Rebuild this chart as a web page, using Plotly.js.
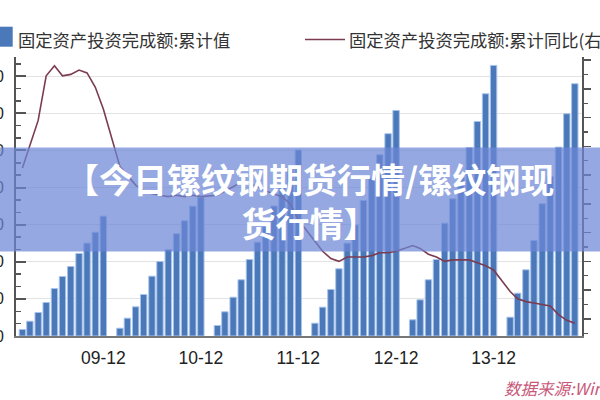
<!DOCTYPE html>
<html>
<head>
<meta charset="utf-8">
<script src="https://cdn.plot.ly/plotly-3.0.1.min.js"></script>
<style>
  html, body { margin: 0; padding: 0; background: #ffffff; }
  #chart { width: 600px; height: 400px; }
</style>
</head>
<body>
<div id="chart"></div>
<script>
// ---- data ----
const years = ['2009', '2010', '2011', '2012', '2013', '2014'];
const months = ['02', '03', '04', '05', '06', '07', '08', '09', '10', '11', '12'];

// 固定资产投资完成额:累计值 (left axis)
const invest2009 = [10500, 23900, 38000, 54200, 76800, 96200, 112400, 133400, 150100, 167800, 193700];
const invest2010 = [12600, 28800, 47200, 67100, 96700, 120500, 139900, 165300, 186300, 209900, 224400];
const invest2011 = [17000, 39100, 62700, 90900, 123700, 151700, 176300, 210200, 239300, 270000, 300800];
const invest2012 = [20700, 46600, 75200, 108700, 150100, 179500, 219100, 255500, 293000, 327000, 364600];
const invest2013 = [26200, 58500, 90900, 123700, 182400, 221900, 256800, 304800, 346800, 391600, 437400];
const invest2014 = [30400, 69200, 107000, 154400, 213800, 257900, 305300, 359300, 407800];

// 固定资产投资完成额:累计同比 (right axis, %)
const yoy2009 = [26.5, 28.0, 29.8, 32.9, 33.6, 32.9, 33.0, 33.3, 33.1, 32.1, 30.6];
const yoy2010 = [26.6, 26.0, 25.3, 24.9, 24.7, 24.6, 24.5, 24.6, 24.5, 24.6, 24.5];
const yoy2011 = [24.6, 24.9, 25.2, 25.5, 25.4, 25.2, 24.9, 24.7, 24.5, 24.0, 22.9];
const yoy2012 = [21.4, 20.7, 20.2, 20.0, 20.3, 20.3, 20.3, 20.4, 20.6, 20.6, 20.7];
const yoy2013 = [21.1, 20.9, 20.5, 20.3, 20.0, 20.1, 20.1, 20.1, 19.9, 19.7, 19.4];
const yoy2014 = [17.9, 17.4, 17.2, 17.1, 17.0, 16.9, 16.3, 15.9, 15.7];

const tickDates = ['2009-12-01', '2010-12-01', '2011-12-01', '2012-12-01', '2013-12-01'];
const tickLabels = ['09-12', '10-12', '11-12', '12-12', '13-12'];

const seriesName1 = '固定资产投资完成额:累计值';
const seriesName2 = '固定资产投资完成额:累计同比(右';
const bannerText = '【今日镙纹钢期货行情/镙纹钢现<br>货行情】';
const sourceText = '数据来源:Wind';

// ---- assemble ----
const investByYear = [invest2009, invest2010, invest2011, invest2012, invest2013, invest2014];
const yoyByYear = [yoy2009, yoy2010, yoy2011, yoy2012, yoy2013, yoy2014];
const xs = [], inv = [], yoy = [];
years.forEach((y, i) => {
  investByYear[i].forEach((v, j) => {
    xs.push(y + '-' + months[j] + '-01');
    inv.push(v);
    yoy.push(yoyByYear[i][j]);
  });
});

const BAR = '#4a78b8';
const LINE = '#7b3b50';
const CJK = '"Noto Sans CJK SC", "Noto Sans", sans-serif';

// pixel -> paper helpers (plot area: x 16..582, y 57..336)
const L = 16, R = 18, T = 57, B = 64;
const PW = 600 - L - R, PH = 400 - T - B;
const px = x => (x - L) / PW;
const py = y => (400 - B - y) / PH;

const traces = [
  {
    type: 'bar', x: xs, y: inv, name: seriesName1,
    width: 24 * 86400000,
    marker: { color: BAR, line: { color: '#a8c4ec', width: 1 } },
    hoverinfo: 'x+y'
  },
  {
    type: 'scatter', mode: 'lines', x: xs, y: yoy, name: seriesName2, yaxis: 'y2',
    line: { color: LINE, width: 1.6 }
  }
];

const layout = {
  width: 600, height: 400,
  margin: { l: L, r: R, t: T, b: B, pad: 0 },
  paper_bgcolor: '#ffffff', plot_bgcolor: '#ffffff',
  showlegend: false,
  xaxis: {
    type: 'date',
    range: ['2009-01-08', '2014-10-28'],
    tickmode: 'array', tickvals: tickDates, ticktext: tickLabels,
    ticks: '', showgrid: false, zeroline: false,
    showline: true, linecolor: '#777', linewidth: 1.5,
    ticklabelstandoff: 5,
    tickfont: { family: '"Liberation Sans", Arial, sans-serif', size: 17.5, color: '#222' }
  },
  yaxis: {
    range: [0, 451000],
    tick0: 0, dtick: 60000, tickformat: 'd',
    ticks: 'inside', ticklen: 10, tickwidth: 2, tickcolor: '#555',
    minor: { dtick: 20000, ticks: 'inside', ticklen: 5, tickwidth: 1.5, tickcolor: '#555', showgrid: false },
    showline: true, linecolor: '#555', linewidth: 2,
    showgrid: true, gridcolor: '#e3e3e3', gridwidth: 1,
    zeroline: false,
    ticklabelstandoff: 7,
    automargin: false,
    tickfont: { family: '"Liberation Sans", Arial, sans-serif', size: 16, color: '#222' }
  },
  yaxis2: {
    overlaying: 'y', side: 'right',
    range: [14.81, 34.21],
    tick0: 16, dtick: 2,
    ticks: 'outside', ticklen: 7, tickwidth: 1.5, tickcolor: '#555',
    minor: { dtick: 1, ticks: 'outside', ticklen: 4, tickwidth: 1.2, tickcolor: '#555', showgrid: false },
    showline: true, linecolor: '#555', linewidth: 2,
    showgrid: false, zeroline: false,
    ticklabelstandoff: 7,
    automargin: false,
    tickfont: { family: '"Liberation Sans", Arial, sans-serif', size: 14, color: '#777' }
  },
  shapes: [
    // banner
    { type: 'rect', xref: 'paper', yref: 'paper', layer: 'above',
      x0: px(-2), x1: px(602), y0: py(251.5), y1: py(147.5),
      fillcolor: 'rgba(108,134,214,0.72)', line: { width: 0 } },
    // legend marker for bars
    { type: 'rect', xref: 'paper', yref: 'paper',
      x0: px(-8), x1: px(12.7), y0: py(46.7), y1: py(26.7),
      fillcolor: BAR, line: { width: 0 } },
    // legend marker for line
    { type: 'line', xref: 'paper', yref: 'paper',
      x0: px(305), x1: px(345), y0: py(39.5), y1: py(39.5),
      line: { color: LINE, width: 1.6 } }
  ],
  annotations: [
    { xref: 'paper', yref: 'paper', x: px(16), y: py(39), xanchor: 'left', yanchor: 'middle',
      text: seriesName1, showarrow: false,
      font: { family: CJK, size: 17.3, color: '#333' } },
    { xref: 'paper', yref: 'paper', x: px(347), y: py(39), xanchor: 'left', yanchor: 'middle',
      text: seriesName2, showarrow: false,
      font: { family: CJK, size: 17.3, color: '#333' } },
    { xref: 'paper', yref: 'paper', x: px(309), y: py(200), xanchor: 'center', yanchor: 'middle',
      text: bannerText, showarrow: false, align: 'center',
      font: { family: CJK, size: 34, color: '#ffffff', weight: 'bold' } },
    { xref: 'paper', yref: 'paper', x: px(502), y: py(388), xanchor: 'left', yanchor: 'middle',
      text: sourceText, showarrow: false,
      font: { family: CJK, size: 16.5, color: '#c8587a', style: 'italic' } }
  ]
};

Plotly.newPlot('chart', traces, layout, { displayModeBar: false, staticPlot: true });
</script>
</body>
</html>
